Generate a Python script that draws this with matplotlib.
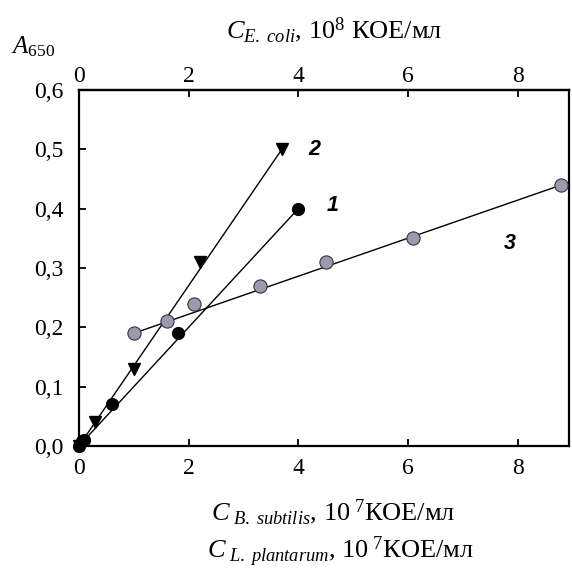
import matplotlib
matplotlib.use("Agg")
import matplotlib.pyplot as plt
import numpy as np

plt.rcParams['font.family'] = ['Liberation Serif', 'DejaVu Serif']
plt.rcParams['mathtext.fontset'] = 'custom'
plt.rcParams['mathtext.rm'] = 'Liberation Serif'
plt.rcParams['mathtext.it'] = 'Liberation Serif:italic'

# Series 1: B. subtilis (black circles)
x1 = [0.0, 0.05, 0.1, 0.6, 1.8, 4.0]
y1 = [0.0, 0.008, 0.01, 0.07, 0.19, 0.40]
# Series 2: L. plantarum (black down-triangles)
x2 = [0.0, 0.3, 1.0, 2.2, 3.7]
y2 = [0.0, 0.04, 0.13, 0.31, 0.50]
# Series 3: E. coli (gray circles)
x3 = [1.0, 1.6, 2.1, 3.3, 4.5, 6.1, 8.8]
y3 = [0.19, 0.21, 0.24, 0.27, 0.31, 0.35, 0.44]

xticks = [0, 2, 4, 6, 8]
yticks = [0.0, 0.1, 0.2, 0.3, 0.4, 0.5, 0.6]
yticklabels = ['0,0', '0,1', '0,2', '0,3', '0,4', '0,5', '0,6']

fig = plt.figure(figsize=(5.72, 5.68), dpi=100)
ax = fig.add_axes([0.138, 0.2148, 0.857, 0.6267])

# fit lines drawn from first to last point
ax.plot([x1[0], x1[-1]], [y1[0], y1[-1]], color='black', lw=1.0, zorder=2)
ax.plot([x2[0], x2[-1]], [y2[0], y2[-1]], color='black', lw=1.0, zorder=2)
ax.plot([x3[0], x3[-1]], [y3[0], y3[-1]], color='black', lw=1.0, zorder=2)

ax.plot(x1, y1, 'o', color='black', ms=8.5, ls='none', zorder=3, clip_on=False)
ax.plot(x2, y2, 'v', color='black', ms=8, ls='none', zorder=3, clip_on=False)
ax.plot(x3, y3, 'o', mfc='#9b9bad', mec='#333344', mew=0.8, ms=9.5, ls='none', zorder=3, clip_on=False)

ax.set_xlim(0, 8.94)
ax.set_ylim(0, 0.6)
ax.set_xticks(xticks)
ax.set_yticks(yticks)
ax.set_yticklabels(yticklabels)
ax.tick_params(direction='in', length=5, width=1.3, labelsize=17, top=False, right=False)
ax.tick_params(axis='y', pad=11)
ax.tick_params(axis='x', pad=9)
for s in ax.spines.values():
    s.set_linewidth(1.6)

top = ax.secondary_xaxis('top')
top.set_xticks(xticks)
top.tick_params(direction='in', length=5, width=1.3, labelsize=17, pad=2)
top.spines['top'].set_linewidth(1.6)

# curve labels
lab = dict(fontsize=15.5, fontweight='bold', fontstyle='italic', family=['Liberation Sans', 'DejaVu Sans'])
ax.text(4.29, 0.5, '2', ha='center', va='center', **lab)
ax.text(4.63, 0.406, '1', ha='center', va='center', **lab)
ax.text(7.85, 0.342, '3', ha='center', va='center', **lab)

fig.text(0.058, 0.918, r'$A_{650}$', fontsize=18, ha='center', va='center')
fig.text(0.584, 0.947, r'$C_{E.\ coli}$, $10^{8}$ КОЕ/мл', fontsize=19, ha='center', va='center')
fig.text(0.583, 0.099, r'$C_{\ B.\ subtilis}$, $10^{\ 7}$КОЕ/мл', fontsize=19, ha='center', va='center')
fig.text(0.596, 0.028, r'$C_{\ L.\ plantarum}$, $10^{\ 7}$КОЕ/мл', fontsize=19, ha='center', va='center')

fig.savefig('out.png', dpi=100)
